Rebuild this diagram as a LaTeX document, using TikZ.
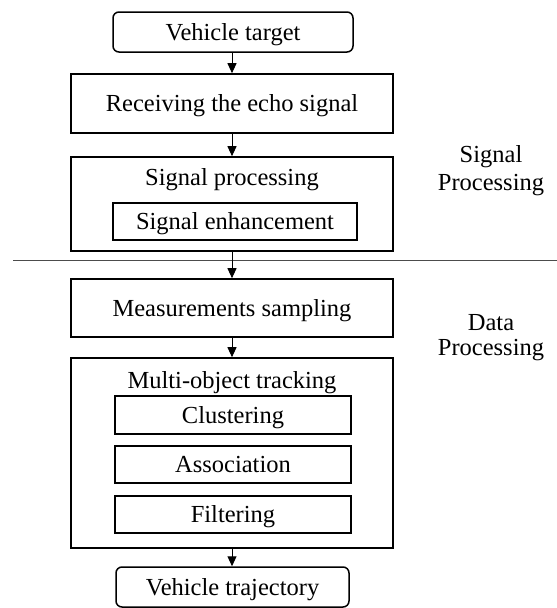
\documentclass[tikz,border=0pt]{standalone}
\usepackage{fontspec}
\setmainfont{Liberation Serif}
\usetikzlibrary{arrows.meta}
\begin{document}
\begin{tikzpicture}[x=1pt,y=-1pt,
  every node/.style={font=\fontsize{24.5}{28}\selectfont, inner sep=0pt},
  boxtxt/.style={text height=20pt, text depth=4pt},
  box/.style={boxtxt, draw, line width=1.6pt, minimum width=322pt},
  inbox/.style={boxtxt, draw, line width=1.5pt},
  rbox/.style={boxtxt, draw, line width=1.5pt, rounded corners=6pt},
  lbl/.style={anchor=base},
  arr/.style={line width=1pt, -{Triangle[length=10pt,width=9pt]}},
  sepline/.style={line width=1pt, black!70}]
\useasboundingbox (0,0) rectangle (557,608);
% top
\node[rbox, minimum width=240pt, minimum height=40pt] (vt) at (233,32) {Vehicle target};
\node[box, minimum height=59pt] (recv) at (232,103.5) {Receiving the echo signal};
% signal processing container
\node[box, minimum height=94pt] (sp) at (232,204) {};
\node[lbl] (sptitle) at (232,185) {Signal processing};
\node[inbox, minimum width=244pt, minimum height=37pt] (se) at (235,221.5) {Signal enhancement};
% separator
\coordinate (sepL) at (13,260);
\coordinate (sepR) at (557,260);
\draw[sepline] (sepL) -- (sepR);
% data processing
\node[box, minimum height=58pt] (ms) at (232,308) {Measurements sampling};
\node[box, minimum height=190pt] (mot) at (232,453) {};
\node[lbl] (mottitle) at (232,388) {Multi-object tracking};
\node[inbox, minimum width=236pt, minimum height=38pt] (cl) at (233,415) {Clustering};
\node[inbox, minimum width=236pt, minimum height=37pt] (as) at (233,464.5) {Association};
\node[inbox, minimum width=236pt, minimum height=37pt] (fi) at (233,514.5) {Filtering};
\node[rbox, minimum width=233pt, minimum height=40pt] (vtr) at (232.5,587) {Vehicle trajectory};
% side labels
\node[lbl] (sigA) at (491,162) {Signal};
\node[lbl] (sigB) at (491,190) {Processing};
\node[lbl] (datA) at (491,330) {Data};
\node[lbl] (datB) at (491,355) {Processing};
% arrows
\draw[arr] (vt.south -| recv.north) -- (recv.north);
\draw[arr] (recv.south) -- (sp.north);
\draw[arr] (sp.south) -- (ms.north);
\draw[arr] (ms.south) -- (mot.north);
\draw[arr] (mot.south) -- (vtr.north -| mot.south);
\end{tikzpicture}
\end{document}
